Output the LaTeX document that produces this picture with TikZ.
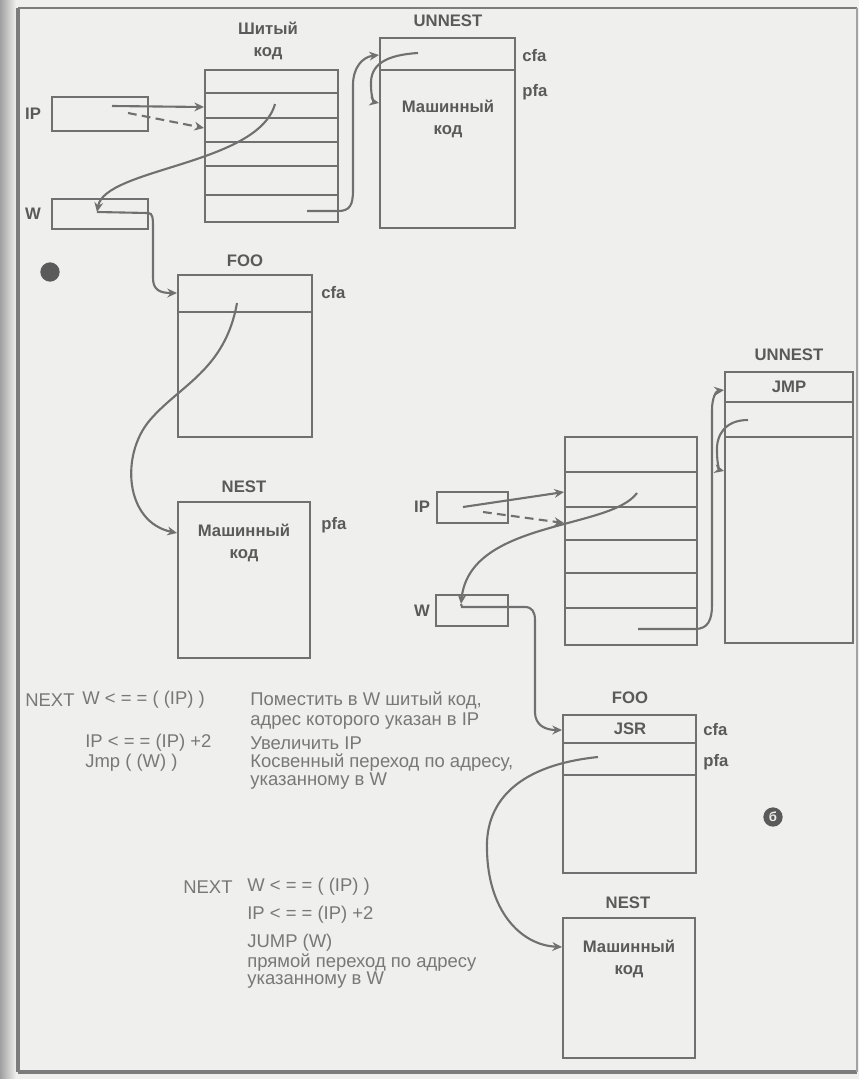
\documentclass[tikz,border=0pt]{standalone}
\usepackage{fontspec}
\setmainfont{Liberation Sans}
\usetikzlibrary{arrows.meta,fit}
\definecolor{paper}{HTML}{EFEFED}
\definecolor{ink}{HTML}{707070}
\definecolor{txt}{HTML}{5A5A5A}
\definecolor{ltxt}{HTML}{787878}
\definecolor{frame}{HTML}{7C7C7C}
\tikzset{
  box/.style={draw=ink, line width=1.1pt, inner sep=0pt},
  rowline/.style={draw=ink, line width=1pt},
  lbl/.style={text=txt, font=\bfseries\fontsize{9.5}{11}\selectfont, inner sep=0pt},
  note/.style={text=ltxt, font=\fontsize{10.5}{12}\selectfont, anchor=west, inner sep=0pt},
  arr/.style={draw=ink, line width=1.2pt, -{Stealth[length=5.5pt,width=5pt]}},
  darr/.style={arr, dash pattern=on 5pt off 3pt},
  blob/.style={circle, fill=txt, minimum size=11pt, inner sep=0pt},
}
\begin{document}
\begin{tikzpicture}[x=0.02cm,y=-0.02cm]
\useasboundingbox (0,0) rectangle (859,1079);
% paper
\fill[paper] (0,0) rectangle (859,1079);
\shade[left color=gray!75, right color=paper] (0,0) rectangle (16,1079);
\draw[frame, line width=1.6pt] (18,8) -- (857,8);
\draw[frame, line width=2pt] (18,8) -- (18,1072);
\draw[frame, line width=2.2pt] (18,1072) -- (857,1072);
\draw[frame!70, line width=1.2pt] (857,8) -- (857,1072);

% ================= upper diagram =================
\node[lbl, align=center] (tclab) at (268,41) {Шитый\\[2pt]код};
\node[box, fit={(205,70) (338,222)}] (tc1) {};
\foreach \yy in {93,118,142,166,195}
  \draw[rowline] (tc1.west |- 0,\yy) -- (tc1.east |- 0,\yy);

\node[box, fit={(52,97) (148,131)}] (ip1) {};
\node[lbl] (ip1lab) at (33,114) {IP};
\node[box, fit={(52,199) (148,229)}] (w1) {};
\node[lbl] (w1lab) at (33,214) {W};

\coordinate (ip1s) at (112,106);
\coordinate (ip1d) at (128,113);
\draw[arr] (ip1s) -- (tc1.west |- 0,107);
\draw[darr] (ip1d) -- (tc1.west |- 0,128);

\coordinate (tc1r2) at (275,104);
\coordinate (w1in) at (97,212);
\draw[arr] (tc1r2) .. controls (258,165) and (105,168) .. (w1in);

\node[box, fit={(178,275) (312,437)}] (foo1) {};
\draw[rowline] (foo1.west |- 0,312) -- (foo1.east |- 0,312);
\node[lbl] (foo1lab) at (245,261) {FOO};
\node[lbl, anchor=west] (foo1cfa) at (321,293) {cfa};

\draw[arr] (w1in) -- (148,213) .. controls (153,213) and (153,218) .. (153,230)
  -- (153,278) .. controls (153,290) and (160,293) .. (foo1.west |- 0,293);

\node[box, fit={(178,502) (310,658)}] (nest1) {};
\node[lbl] (nest1lab) at (244,487) {NEST};
\node[lbl, align=center] (nest1txt) at (244,543) {Машинный\\[2pt]код};
\node[lbl, anchor=west] (nest1pfa) at (321,525) {pfa};

\coordinate (foo1in) at (237,303);
\draw[arr] (foo1in) .. controls (225,370) and (180,385) .. (150,420)
  .. controls (120,455) and (125,522) .. (nest1.west |- 0,533);

\node[box, fit={(380,38) (515,228)}] (un1) {};
\draw[rowline] (un1.west |- 0,70) -- (un1.east |- 0,70);
\node[lbl] (un1lab) at (448,21) {UNNEST};
\node[lbl, anchor=west] (un1cfa) at (522,56) {cfa};
\node[lbl, anchor=west] (un1pfa) at (522,92) {pfa};
\node[lbl, align=center] (un1txt) at (448,119) {Машинный\\[2pt]код};

\coordinate (tc1last) at (307,211);
\draw[arr] (tc1last) -- (338,211) .. controls (350,211) and (353,205) .. (353,190)
  -- (353,85) .. controls (353,68) and (362,57) .. (un1.west |- 0,55);
\coordinate (un1in) at (418,53);
\draw[arr] (un1in) .. controls (385,55) and (370,65) .. (371,85)
  .. controls (371,97) and (374,102) .. (un1.west |- 0,103);

\node[blob] (dota) at (50,272) {};

% ================= lower diagram =================
\node[box, fit={(565,437) (697,645)}] (tc2) {};
\foreach \yy in {472,507,540,573,608}
  \draw[rowline] (tc2.west |- 0,\yy) -- (tc2.east |- 0,\yy);

\node[box, fit={(725,372) (853,643)}] (un2) {};
\draw[rowline] (un2.west |- 0,402) -- (un2.east |- 0,402);
\draw[rowline] (un2.west |- 0,437) -- (un2.east |- 0,437);
\node[lbl] (un2lab) at (789,355) {UNNEST};
\node[lbl] (un2jmp) at (789,387) {JMP};

\node[box, fit={(437,492) (508,523)}] (ip2) {};
\node[lbl] (ip2lab) at (422,507) {IP};
\node[box, fit={(436,595) (508,626)}] (w2) {};
\node[lbl] (w2lab) at (422,611) {W};

\coordinate (ip2s) at (463,507);
\coordinate (ip2d) at (483,512);
\draw[arr] (ip2s) -- (tc2.west |- 0,492);
\draw[darr] (ip2d) -- (tc2.west |- 0,523);

\coordinate (tc2r2) at (637,493);
\coordinate (w2in) at (461,604);
\draw[arr] (tc2r2) .. controls (610,530) and (470,520) .. (w2in);

\node[box, fit={(563,715) (696,873)}] (foo2) {};
\draw[rowline] (foo2.west |- 0,743) -- (foo2.east |- 0,743);
\draw[rowline] (foo2.west |- 0,775) -- (foo2.east |- 0,775);
\node[lbl] (foo2lab) at (630,698) {FOO};
\node[lbl] (foo2jsr) at (630,729) {JSR};
\node[lbl, anchor=west] (foo2cfa) at (703,730) {cfa};
\node[lbl, anchor=west] (foo2pfa) at (703,762) {pfa};

\draw[arr] (w2in) -- (462,607) -- (525,607) .. controls (532,607) and (535,612) .. (535,620)
  -- (535,712) .. controls (535,725) and (545,730) .. (foo2.west |- 0,730);

\node[box, fit={(563,918) (695,1058)}] (nest2) {};
\node[lbl] (nest2lab) at (628,903) {NEST};
\node[lbl, align=center] (nest2txt) at (629,959) {Машинный\\[2pt]код};

\coordinate (foo2in) at (598,757);
\draw[arr] (foo2in) .. controls (520,765) and (485,800) .. (487,850)
  .. controls (488,910) and (520,945) .. (nest2.west |- 0,947);

\coordinate (tc2last) at (638,629);
\draw[arr] (tc2last) -- (695,629) .. controls (708,629) and (712,620) .. (712,605)
  -- (712,410) .. controls (712,398) and (716,391) .. (un2.west |- 0,390);
\coordinate (un2in) at (748,420);
\draw[arr] (un2in) .. controls (725,420) and (716,435) .. (717,452)
  .. controls (717,465) and (720,470) .. (un2.west |- 0,471);

\node[blob, text=paper, font=\bfseries\fontsize{7.5}{7.5}\selectfont] (dotb) at (773,817) {б};

% ================= notes =================
\node[note] (n1a) at (25,700) {NEXT};
\node[note] (n1b) at (82,700) {W < = = ( (IP) )};
\node[note] (n1c) at (250,700) {Поместить в W шитый код,};
\node[note] (n1d) at (250,721) {адрес которого указан в IP};
\node[note] (n1e) at (85,743) {IP < = = (IP) +2};
\node[note] (n1f) at (250,743) {Увеличить IP};
\node[note] (n1g) at (85,763) {Jmp ( (W) )};
\node[note] (n1h) at (250,763) {Косвенный переход по адресу,};
\node[note] (n1i) at (250,781) {указанному в W};

\node[note] (n2a) at (183,887) {NEXT};
\node[note] (n2b) at (247,887) {W < = = ( (IP) )};
\node[note] (n2c) at (247,915) {IP < = = (IP) +2};
\node[note] (n2d) at (247,943) {JUMP (W)};
\node[note] (n2e) at (247,963) {прямой переход по адресу};
\node[note] (n2f) at (247,980) {указанному в W};
\end{tikzpicture}
\end{document}
